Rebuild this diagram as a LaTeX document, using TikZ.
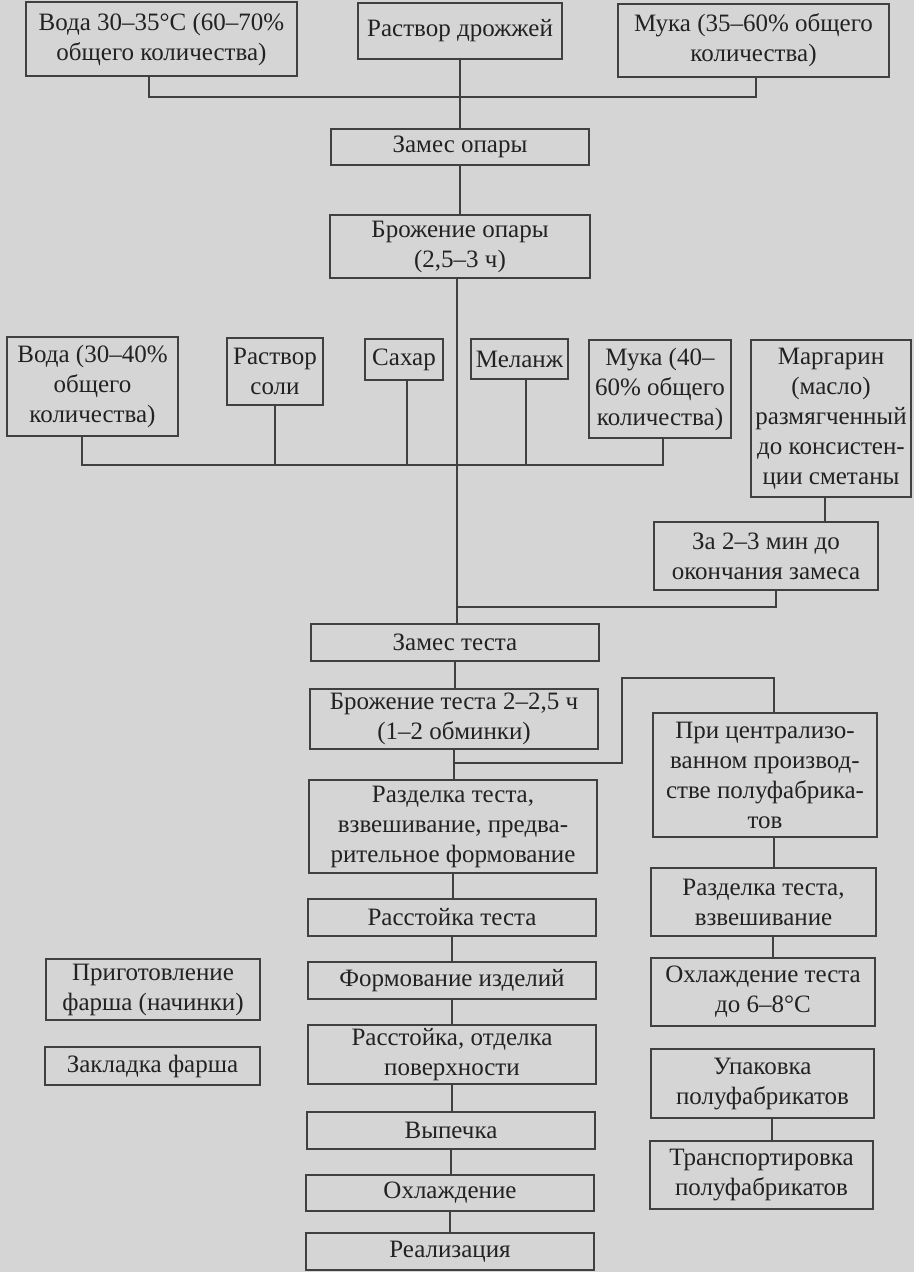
\documentclass[tikz,border=0pt]{standalone}
\usepackage{fontspec}
\setmainfont{Liberation Serif}
\definecolor{bg}{HTML}{D5D5D5}
\definecolor{lc}{HTML}{404040}
\definecolor{tc}{HTML}{222222}
\newcommand{\bx}[6]{%
 \pgfmathsetmacro\bxw{#4-#2}\pgfmathsetmacro\bxh{#5-#3}%
 \pgfmathsetmacro\bxcx{(#2+#4)/2}\pgfmathsetmacro\bxcy{(#3+#5)/2}%
 \node[box, minimum width=\bxw pt, minimum height=\bxh pt] (#1) at (\bxcx,\bxcy) {#6};}
\begin{document}
\begin{tikzpicture}[x=1pt,y=-1pt,
  box/.style={draw=lc, line width=1.7pt, inner sep=0pt, align=center, text=tc,
    font=\fontsize{25}{30}\selectfont},
  ln/.style={draw=lc, line width=1.7pt}]
\fill[bg] (0,0) rectangle (914,1272);
\useasboundingbox (0,0) rectangle (914,1272);
% top row
\bx{voda1}{26}{2}{297}{76}{Вода 30–35°C (60–70\%\\общего количества)}
\bx{drozh}{358}{3}{562}{59}{Раствор дрожжей}
\bx{muka1}{618}{4}{889}{77}{Мука (35–60\% общего\\количества)}
\bx{zamop}{331}{129}{589}{165}{Замес опары}
\bx{brop}{330}{215}{590}{278}{Брожение опары\\(2,5–3 ч)}
% second row
\bx{voda2}{7}{337}{178}{436}{Вода (30–40\%\\общего\\количества)}
\bx{sol}{227}{338}{323}{405}{Раствор\\соли}
\bx{sahar}{365}{339}{443}{380}{Сахар}
\bx{melanzh}{471}{339}{568}{379}{Меланж}
\bx{muka2}{589}{340}{731}{438}{Мука (40–\\60\% общего\\количества)}
\bx{marg}{751}{340}{911}{497}{Маргарин\\(масло)\\размягченный\\до консистен-\\ции сметаны}
\bx{za}{654}{522}{878}{590}{За 2–3 мин до\\окончания замеса}
% main column
\bx{zamt}{311}{624}{599}{661}{Замес теста}
\bx{brt}{310}{689}{598}{749}{Брожение теста 2–2,5 ч\\(1–2 обминки)}
\bx{razd1}{309}{780}{597}{873}{Разделка теста,\\взвешивание, предва-\\рительное формование}
\bx{rasst}{308}{899}{596}{936}{Расстойка теста}
\bx{form}{308}{962}{596}{999}{Формование изделий}
\bx{rasst2}{308}{1025}{596}{1084}{Расстойка, отделка\\поверхности}
\bx{vyp}{307}{1112}{595}{1149}{Выпечка}
\bx{ohl}{306}{1175}{594}{1211}{Охлаждение}
\bx{real}{306}{1233}{594}{1270}{Реализация}
% left
\bx{prig}{46}{959}{260}{1020}{Приготовление\\фарша (начинки)}
\bx{zakl}{45}{1047}{260}{1085}{Закладка фарша}
% right column
\bx{pri}{653}{713}{877}{837}{При централизо-\\ванном производ-\\стве полуфабрика-\\тов}
\bx{razd2}{651}{868}{876}{936}{Разделка теста,\\взвешивание}
\bx{ohlt}{651}{958}{875}{1026}{Охлаждение теста\\до 6–8°C}
\bx{upak}{651}{1049}{874}{1118}{Упаковка\\полуфабрикатов}
\bx{trans}{650}{1141}{873}{1209}{Транспортировка\\полуфабрикатов}
% coordinates
\coordinate (b1L) at (149,97);
\coordinate (b1R) at (756,97);
\coordinate (b2L) at (82,465);
\coordinate (b2R) at (663,465);
\coordinate (mx) at (457,0);
\coordinate (zj) at (776,607);
\coordinate (br1) at (622,763);
\coordinate (br2) at (622,678);
\coordinate (br3) at (774,678);
% connectors top
\draw[ln] (voda1.south -| b1L) -- (b1L) -- (b1R) -- (muka1.south -| b1R);
\draw[ln] (drozh.south) -- (zamop.north);
\draw[ln] (zamop.south) -- (brop.north);
\draw[ln] (brop.south -| mx) -- (zamt.north -| mx);
% second bus
\draw[ln] (voda2.south -| b2L) -- (b2L) -- (b2R) -- (muka2.south -| b2R);
\draw[ln] (sol.south) -- (sol.south |- b2L);
\draw[ln] (sahar.south -| 407,0) -- (407,465);
\draw[ln] (melanzh.south -| 526,0) -- (526,465);
\draw[ln] (marg.south -| 825,0) -- (za.north -| 825,0);
\draw[ln] (za.south -| zj) -- (zj) -- (zj -| mx);
% main column
\draw[ln] (zamt.south) -- (zamt.south |- brt.north);
\draw[ln] (brt.south) -- (brt.south |- razd1.north);
\draw[ln] (brt.south |- br1) -- (br1) -- (br2) -- (br3) -- (pri.north -| br3);
\draw[ln] (razd1.south) -- (razd1.south |- rasst.north);
\draw[ln] (rasst.south) -- (rasst.south |- form.north);
\draw[ln] (form.south) -- (form.south |- rasst2.north);
\draw[ln] (rasst2.south) -- (rasst2.south |- vyp.north);
\draw[ln] (vyp.south) -- (vyp.south |- ohl.north);
\draw[ln] (ohl.south) -- (ohl.south |- real.north);
% right column
\draw[ln] (pri.south -| 774,0) -- (razd2.north -| 774,0);
\draw[ln] (razd2.south -| 773,0) -- (ohlt.north -| 773,0);
\draw[ln] (upak.south -| 772,0) -- (trans.north -| 772,0);
\end{tikzpicture}
\end{document}
